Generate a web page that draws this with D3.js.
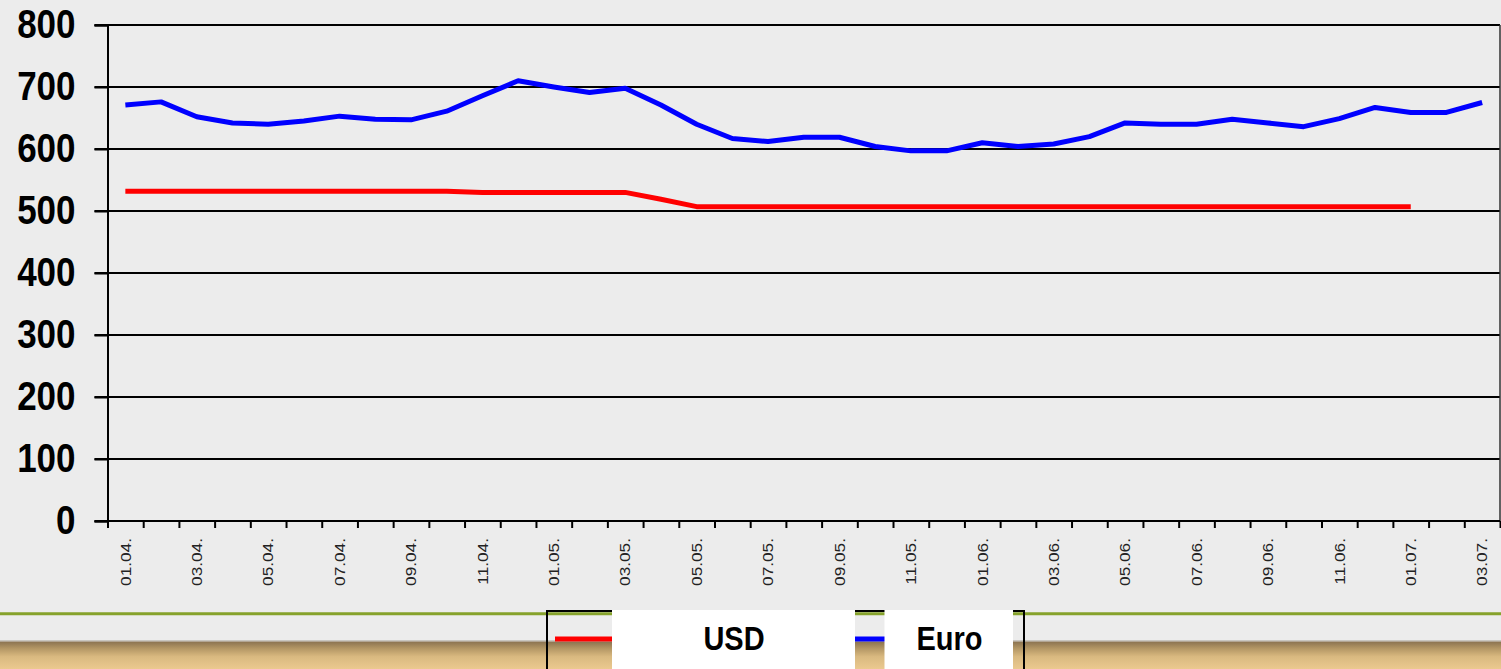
<!DOCTYPE html>
<html>
<head>
<meta charset="utf-8">
<script src="https://cdn.jsdelivr.net/npm/d3@7"></script>
<style>
    body { margin: 0; background: #ececec; }
    svg { display: block; font-family: "Liberation Sans", Arial, sans-serif; }
</style>
</head>
<body>
<svg id="chart"></svg>
<script>
// dates (only every other one is labelled on the axis)
var dates = ["01.04.", "02.04.", "03.04.", "04.04.", "05.04.", "06.04.", "07.04.", "08.04.",
    "09.04.", "10.04.", "11.04.", "12.04.", "01.05.", "02.05.", "03.05.", "04.05.",
    "05.05.", "06.05.", "07.05.", "08.05.", "09.05.", "10.05.", "11.05.", "12.05.",
    "01.06.", "02.06.", "03.06.", "04.06.", "05.06.", "06.06.", "07.06.", "08.06.",
    "09.06.", "10.06.", "11.06.", "12.06.", "01.07.", "02.07.", "03.07."];
var usd = [532, 532, 532, 532, 532, 532, 532, 532, 532, 532, 530, 530, 530, 530, 530, 519,
    507, 507, 507, 507, 507, 507, 507, 507, 507, 507, 507, 507, 507, 507, 507, 507,
    507, 507, 507, 507, 507, null, null];
var euro = [671, 676, 652, 642, 640, 645, 653, 648, 647, 661, 686, 710, 700, 691, 698, 671,
    640, 617, 612, 619, 619, 604, 597, 597, 610, 604, 608, 620, 642, 640, 640, 648,
    642, 636, 649, 667, 659, 659, 675];
var yTicks = [0, 100, 200, 300, 400, 500, 600, 700, 800];
var seriesNames = ["USD", "Euro"];
var seriesColors = ["#ff0000", "#0000ff"];

var width = 1501, height = 669;
var plotLeft = 107.5, plotRight = 1500, plotTop = 25, plotBottom = 521;
var stretch = "scale(1,1.15)";

var svg = d3.select("#chart")
    .attr("width", width)
    .attr("height", height);

// background and the slide footer
var defs = svg.append("defs");
var grad = defs.append("linearGradient")
    .attr("id", "footer")
    .attr("x1", 0).attr("y1", 0).attr("x2", 0).attr("y2", 1);
grad.append("stop").attr("offset", "0%").attr("stop-color", "#8a7250");
grad.append("stop").attr("offset", "25%").attr("stop-color", "#b39664");
grad.append("stop").attr("offset", "55%").attr("stop-color", "#d9b980");
grad.append("stop").attr("offset", "100%").attr("stop-color", "#ebc98f");

svg.append("rect")
    .attr("width", width).attr("height", height)
    .attr("fill", "#ececec");
svg.append("rect")
    .attr("y", 640).attr("width", width).attr("height", 1.5)
    .attr("fill", "#c9c6c0");
svg.append("rect")
    .attr("y", 641.5).attr("width", width).attr("height", height - 641.5)
    .attr("fill", "url(#footer)");
svg.append("line")
    .attr("x1", 0).attr("x2", width)
    .attr("y1", 613.8).attr("y2", 613.8)
    .attr("stroke", "#86a22b")
    .attr("stroke-width", 3);

var x = d3.scaleBand()
    .domain(dates)
    .range([plotLeft, plotRight]);
var xIndex = d3.scaleLinear()
    .domain([0, dates.length])
    .range([plotLeft, plotRight]);
var y = d3.scaleLinear()
    .domain([0, 800])
    .range([plotBottom, plotTop]);

// horizontal grid lines
svg.append("g")
    .selectAll("line")
    .data(yTicks.slice(1))
    .enter().append("line")
        .attr("x1", plotLeft - 13)
        .attr("x2", plotRight)
        .attr("y1", function(d) { return y(d); })
        .attr("y2", function(d) { return y(d); })
        .attr("stroke", "#000")
        .attr("stroke-width", 2);

svg.append("line")
    .attr("x1", plotRight).attr("x2", plotRight)
    .attr("y1", plotTop).attr("y2", plotBottom)
    .attr("stroke", "#333")
    .attr("stroke-width", 1.5);

// y axis
var yAxis = svg.append("g")
    .attr("transform", "translate(" + plotLeft + ",0)")
    .call(d3.axisLeft(y).tickValues(yTicks).tickSize(13).tickPadding(19));
yAxis.select(".domain").attr("stroke", "#000").attr("stroke-width", 2);
yAxis.selectAll(".tick line").attr("stroke", "#000").attr("stroke-width", 2);
yAxis.selectAll(".tick text")
    .attr("transform", stretch)
    .attr("fill", "#000")
    .style("font-size", "35px")
    .style("font-weight", "bold");

// x axis: tick marks between dates, labels on every other date
var xTickAxis = svg.append("g")
    .attr("transform", "translate(0," + plotBottom + ")")
    .call(d3.axisBottom(xIndex).tickValues(d3.range(dates.length + 1))
        .tickSize(7).tickSizeOuter(0).tickFormat(""));
xTickAxis.select(".domain").attr("stroke", "#000").attr("stroke-width", 2)
    .attr("d", "M" + (plotLeft - 13) + ",0H" + plotRight);
xTickAxis.selectAll(".tick line").attr("stroke", "#000").attr("stroke-width", 2);

var xAxis = svg.append("g")
    .attr("transform", "translate(0," + plotBottom + ")")
    .call(d3.axisBottom(x).tickSize(0)
        .tickFormat(function(d, i) { return i % 2 === 0 ? d : ""; }));
xAxis.select(".domain").remove();
xAxis.selectAll(".tick text")
    .attr("x", 0)
    .attr("y", 0)
    .attr("dy", "0.35em")
    .attr("transform", "translate(0,17) scale(1,1.15) rotate(-90)")
    .attr("fill", "#222")
    .style("text-anchor", "end")
    .style("font-size", "15px");

// the two rate lines
var line = d3.line()
    .defined(function(d) { return d != null; })
    .x(function(d, i) { return x(dates[i]) + x.bandwidth() / 2; })
    .y(function(d) { return y(d); });

svg.append("g")
    .selectAll("path")
    .data([usd, euro])
    .enter().append("path")
        .attr("d", line)
        .attr("fill", "none")
        .attr("stroke", function(d, i) { return seriesColors[i]; })
        .attr("stroke-width", 5)
        .attr("stroke-linejoin", "round");

// legend
var legend = svg.append("g");
legend.append("rect")
    .attr("x", 547).attr("y", 611)
    .attr("width", 477).attr("height", 80)
    .attr("fill", "none")
    .attr("stroke", "#000")
    .attr("stroke-width", 2);

var legendItems = [
    {swatch: [555, 612], box: [612, 855], text: 734},
    {swatch: [855, 885], box: [884.5, 1013], text: 949.5}
];

var items = legend.selectAll("g.item")
    .data(legendItems)
    .enter().append("g")
        .attr("class", "item");

items.append("line")
    .attr("x1", function(d) { return d.swatch[0]; })
    .attr("x2", function(d) { return d.swatch[1]; })
    .attr("y1", 639).attr("y2", 639)
    .attr("stroke", function(d, i) { return seriesColors[i]; })
    .attr("stroke-width", 5);

items.append("rect")
    .attr("x", function(d) { return d.box[0]; })
    .attr("y", 610)
    .attr("width", function(d) { return d.box[1] - d.box[0]; })
    .attr("height", 60)
    .attr("fill", "#fff");

items.append("text")
    .text(function(d, i) { return seriesNames[i]; })
    .attr("transform", function(d) {
        return "translate(" + d.text + ",650) " + stretch;
    })
    .attr("text-anchor", "middle")
    .style("font-size", "29px")
    .style("font-weight", "bold");
</script>
</body>
</html>
